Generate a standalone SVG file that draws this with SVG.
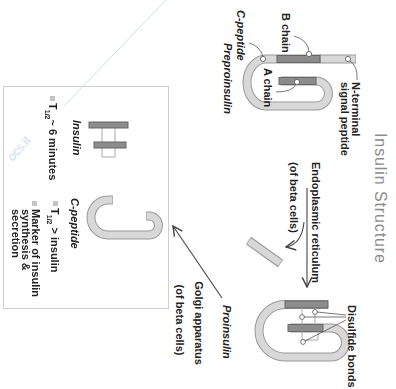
<svg xmlns="http://www.w3.org/2000/svg" width="396" height="389" viewBox="0 0 396 389">
  <style>
    .band-o { fill: none; stroke: #9a9a9a; stroke-width: 9; stroke-linecap: butt; }
    .band-i { fill: none; stroke: #d8d8d8; stroke-width: 7; stroke-linecap: butt; }
    .chain { fill: #8c8c8c; stroke: #666; stroke-width: 1; }
    .lbl { font-family: "Liberation Sans", Arial, sans-serif; font-size: 11px; font-weight: bold; fill: #222; }
    .it { font-style: italic; }
    .sub { font-size: 7px; }
    .title { font-family: "Liberation Sans", Arial, sans-serif; font-size: 16px; fill: #8c8c8c; }
    .lead { fill: none; stroke: #555; stroke-width: 0.8; }
    .dot { fill: #fff; stroke: #555; stroke-width: 0.8; }
    .bond { fill: none; stroke: #aaa; stroke-width: 1; }
    .arrow { fill: none; stroke: #444; stroke-width: 1.1; }
    .bullet { fill: #c4c4c4; }
  </style>
  <defs>
    <marker id="chev" viewBox="0 0 10 10" refX="9" refY="5" markerWidth="12" markerHeight="12" markerUnits="userSpaceOnUse" orient="auto">
      <path d="M1,1 L9,5 L1,9" fill="none" stroke="#444" stroke-width="1.2"/>
    </marker>
  </defs>

  <!-- watermark -->
  <g id="watermark" opacity="0.8">
    <line x1="166" y1="0" x2="64" y2="106" stroke="#bcd5ee" stroke-width="1"/>
    <text transform="translate(13,162) rotate(-49)" font-family="Liberation Sans, Arial, sans-serif" font-size="12" fill="#b3cdea">ocs.it</text>
  </g>

  <!-- title -->
  <g id="title">
    <text class="title" transform="translate(375,133) rotate(90)" textLength="130">Insulin Structure</text>
  </g>

  <!-- preproinsulin -->
  <g id="preproinsulin">
    <path class="band-o" d="M356 59 H266 A19 23.5 0 0 0 266 106 H316 A12.5 12.5 0 0 0 316 81 H281"/>
    <path class="band-i" d="M355.5 59 H266 A19 23.5 0 0 0 266 106 H316 A12.5 12.5 0 0 0 316 81 H281.5"/>
    <line x1="320" y1="54.5" x2="320" y2="63.5" stroke="#9a9a9a" stroke-width="1"/>
    <rect class="chain" x="277" y="55.5" width="43" height="7"/>
    <rect class="chain" x="279" y="77.5" width="37" height="7"/>
    <circle class="dot" cx="263" cy="59" r="2.6"/>
    <circle class="dot" cx="309" cy="54" r="2.6"/>
    <circle class="dot" cx="348" cy="59" r="2.6"/>
    <circle class="dot" cx="297" cy="82" r="2.6"/>
    <text class="lbl it" transform="translate(237,10) rotate(90)">C-peptide</text>
    <text class="lbl it" transform="translate(224,43) rotate(90)">Preproinsulin</text>
    <text class="lbl" transform="translate(282,13) rotate(90)">B chain</text>
    <text class="lbl" transform="translate(264,68) rotate(90)">A chain</text>
    <text class="lbl" transform="translate(352,82) rotate(90)">N-terminal</text>
    <text class="lbl" transform="translate(341,82) rotate(90)">signal peptide</text>
  </g>

  <!-- cleaved signal peptide -->
  <g id="signal-fragment">
    <line class="band-o" x1="248.5" y1="240.5" x2="280.5" y2="263.5"/>
    <line class="band-i" x1="249" y1="241" x2="280" y2="263"/>
  </g>

  <!-- proinsulin -->
  <g id="proinsulin">
    <path class="band-o" d="M328 304.5 H285 A26 26.25 0 0 0 285 357 H331 A14.5 14.5 0 0 0 331 328 H290"/>
    <path class="band-i" d="M328 304.5 H285 A26 26.25 0 0 0 285 357 H331 A14.5 14.5 0 0 0 331 328 H290"/>
    <rect class="chain" x="285" y="301" width="43" height="7"/>
    <rect class="chain" x="288" y="324.5" width="35" height="7"/>
    <path class="bond" d="M315 308 V324.5 M302 308 V324.5 M302 331.5 V340 H318 V331.5"/>
    <circle class="dot" cx="315" cy="312" r="2.4"/>
    <circle class="dot" cx="302" cy="317" r="2.4"/>
    <circle class="dot" cx="303" cy="342" r="2.4"/>
    <text class="lbl" transform="translate(348,305) rotate(90)">Disulfide bonds</text>
    <text class="lbl it" transform="translate(223,305) rotate(90)">Proinsulin</text>
  </g>

  <!-- Golgi label -->
  <g id="golgi-label">
    <text class="lbl" text-anchor="middle" transform="translate(195,323) rotate(90)">Golgi apparatus</text>
    <text class="lbl" text-anchor="middle" transform="translate(176,320) rotate(90)">(of beta cells)</text>
  </g>

  <!-- ER label -->
  <g id="er-label">
    <text class="lbl" transform="translate(312,162) rotate(90)">Endoplasmic reticulum</text>
    <text class="lbl" transform="translate(290,162) rotate(90)">(of beta cells)</text>
  </g>

  <!-- products box -->
  <g id="products">
    <rect x="3.5" y="86.5" width="165" height="222" fill="none" stroke="#cfcfcf" stroke-width="1"/>
  </g>

  <!-- insulin -->
  <g id="insulin">
    <path class="bond" d="M102 128 V142 M115 128 V142 M102 148 V157 H115 V148"/>
    <rect class="chain" x="89" y="122" width="39" height="6"/>
    <rect class="chain" x="94" y="142" width="32" height="6"/>
    <text class="lbl it" transform="translate(73,120) rotate(90)">Insulin</text>
    <rect class="bullet" x="50" y="96" width="5" height="5"/>
    <text class="lbl" transform="translate(49,103) rotate(90)">T<tspan class="sub" dy="4">1/2</tspan><tspan dy="-4">~ 6 minutes</tspan></text>
  </g>

  <!-- C-peptide -->
  <g id="c-peptide">
    <path class="band-o" d="M113 200 H108 A17 17.5 0 0 0 108 235 H149 A9.5 9.5 0 0 0 149 216 H146"/>
    <path class="band-i" d="M112.5 200 H108 A17 17.5 0 0 0 108 235 H149 A9.5 9.5 0 0 0 149 216 H146.5"/>
    <text class="lbl it" transform="translate(71,198) rotate(90)">C-peptide</text>
    <rect class="bullet" x="53" y="201" width="5" height="5"/>
    <text class="lbl" transform="translate(51,208) rotate(90)">T<tspan class="sub" dy="4">1/2</tspan><tspan dy="-4"> &gt; insulin</tspan></text>
    <rect class="bullet" x="32" y="201" width="5" height="5"/>
    <text class="lbl" transform="translate(32,209) rotate(90)">Marker of insulin</text>
    <text class="lbl" transform="translate(22,209) rotate(90)">synthesis &amp;</text>
    <text class="lbl" transform="translate(12,209) rotate(90)">secretion</text>
  </g>

  <!-- connectors -->
  <g id="connectors">
    <path class="lead" d="M263 56.5 Q260 46 249 43"/>
    <path class="lead" d="M309 51.5 Q308 40 294 36"/>
    <path class="lead" d="M296 84 Q293 92 276 92"/>
    <path class="lead" d="M350 61 Q358 66 357 80"/>
    <path class="lead" d="M317 312 L346 315 M304 317 L346 317 M305 341 L346 320"/>
    <line class="arrow" x1="307" y1="188" x2="307" y2="287" marker-end="url(#chev)"/>
    <path class="arrow" d="M304 222 Q302 244 286 247" marker-end="url(#chev)"/>
    <line class="arrow" x1="222" y1="298" x2="173" y2="226" marker-end="url(#chev)"/>
  </g>
</svg>
